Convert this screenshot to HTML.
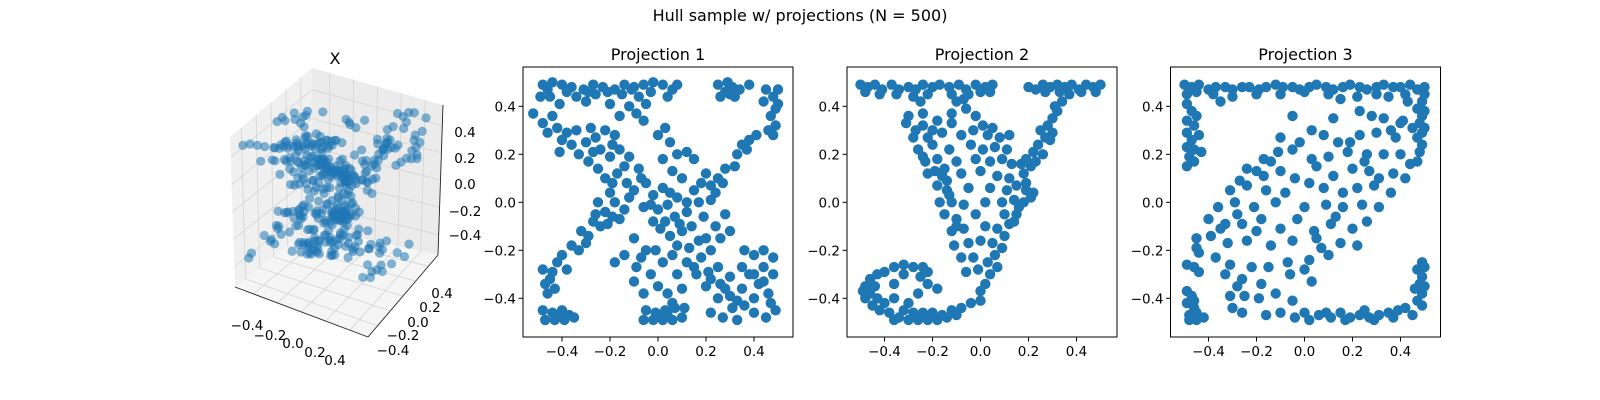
<!DOCTYPE html>
<html><head><meta charset="utf-8"><style>
html,body{margin:0;padding:0;background:#fff;}
svg{display:block;font-family:"DejaVu Sans","Liberation Sans",sans-serif;}
</style></head><body>
<svg id="fig" width="1600" height="400" viewBox="0 0 1600 400" xmlns="http://www.w3.org/2000/svg">
<rect width="1600" height="400" fill="#fff"/>
<text x="800" y="21" font-size="16" text-anchor="middle" fill="#000">Hull sample w/ projections (N = 500)</text>
<g id="g3d"></g>
<g id="p1"></g>
<g id="p2"></g>
<g id="p3"></g>
</svg>
<script>
const tickValues=[-0.4,-0.2,0.0,0.2,0.4];
const tickLabels=["\u22120.4","\u22120.2","0.0","0.2","0.4"];
const panelTitles=["Projection 1","Projection 2","Projection 3"];
const proj1=[[-0.48,0.49],[-0.44,0.5],[-0.40,0.49],[-0.36,0.48],[-0.31,0.47],[-0.27,0.49],[-0.23,0.48],[-0.18,0.47],[-0.14,0.49],[-0.10,0.48],[-0.06,0.49],[-0.02,0.5],[0.02,0.49],[0.06,0.47],[-0.49,0.44],[-0.45,0.44],[-0.34,0.44],[-0.26,0.45],[-0.15,0.45],[-0.08,0.44],[0.04,0.44],[-0.2,0.41],[-0.12,0.4],[-0.05,0.41],
[-0.46,0.47],[-0.38,0.46],[-0.29,0.46],[-0.21,0.46],[-0.11,0.47],[-0.03,0.46],[0.08,0.49],[-0.41,0.41],[-0.30,0.42],[-0.09,0.37],[-0.06,0.34],[-0.16,0.36],
[0.25,0.49],[0.28,0.46],[0.31,0.48],[0.34,0.47],[0.38,0.49],[0.26,0.44],[0.32,0.44],[0.45,0.47],[0.48,0.44],[0.44,0.42],[0.49,0.39],[0.47,0.36],[0.49,0.32],[0.46,0.3],[0.41,0.28],[0.38,0.26],[0.35,0.24],[0.29,0.5],[0.3,0.45],[0.5,0.47],[0.5,0.41],[0.48,0.28],
[-0.52,0.37],[-0.48,0.33],[-0.44,0.36],[-0.42,0.31],[-0.46,0.29],[-0.38,0.29],[-0.36,0.24],[-0.41,0.21],[-0.33,0.20],[-0.30,0.25],[-0.26,0.27],[-0.22,0.30],[-0.18,0.28],[-0.29,0.17],[-0.25,0.14],[-0.20,0.19],[-0.16,0.22],[-0.12,0.19],[-0.22,0.10],[-0.17,0.12],[-0.13,0.08],[-0.08,0.14],[-0.10,0.05],[-0.05,0.08],[-0.02,0.03],[0.02,0.06],[-0.06,-0.02],[0.00,-0.03],[0.04,-0.01],[0.08,0.02],[-0.02,-0.08],[0.03,-0.08],[0.07,-0.06],[0.12,-0.04],[0.05,-0.14],[0.10,-0.12],[0.14,-0.10],[0.08,-0.18],[0.13,-0.19],[0.17,-0.16],[0.12,-0.25],[0.18,-0.23],[0.22,-0.20],[0.16,-0.30],[0.21,-0.29],[0.25,-0.27],[0.20,-0.35],[0.26,-0.34],[0.30,-0.31],[0.25,-0.40],[0.30,-0.39],[0.35,-0.36],[0.31,-0.44],[0.36,-0.43],[0.40,-0.40],[0.42,-0.34],[0.46,-0.38],[0.48,-0.30],[0.44,-0.27],[0.40,-0.22],[0.36,-0.2],
[-0.40,0.26],[-0.34,0.30],[-0.28,0.31],[-0.24,0.22],[-0.19,0.24],[-0.27,0.21],[-0.14,0.15],[-0.19,0.08],[-0.07,0.1],[-0.12,0.02],[-0.03,-0.01],[0.01,-0.11],[0.09,-0.09],[0.06,-0.22],[0.15,-0.27],[0.22,-0.32],[0.28,-0.36],[0.33,-0.41],[0.05,0.04],
[0.00,0.28],[0.03,0.31],[0.05,0.25],[0.08,0.2],[0.12,0.21],[0.15,0.18],[0.02,0.18],[0.06,0.13],[0.10,0.1],
[-0.48,-0.28],[-0.45,-0.32],[-0.42,-0.25],[-0.46,-0.38],[-0.43,-0.36],[-0.40,-0.22],[-0.38,-0.28],[-0.36,-0.18],[-0.33,-0.2],[-0.32,-0.12],[-0.29,-0.14],[-0.27,-0.08],[-0.24,-0.1],[-0.22,-0.04],[-0.19,-0.06],[-0.18,0.0],[-0.14,-0.03],[-0.25,0.0],[-0.2,0.04],[0.18,0.08],[0.22,0.07],[0.2,0.12],[0.25,0.10],[0.28,0.14],[0.33,0.2],[0.37,0.22],[0.32,0.15],
[-0.47,-0.34],[-0.44,-0.29],[-0.30,-0.17],[-0.26,-0.05],[-0.21,-0.09],[-0.16,-0.07],[0.24,0.04],[0.27,0.08],
[0.12,0.0],[0.17,0.0],[0.22,0.01],[0.15,0.05],[0.19,-0.06],[0.24,-0.1],[0.28,-0.05],[0.26,-0.15],[0.2,-0.15],[0.3,-0.12],[-0.05,-0.2],[-0.1,-0.15],[-0.14,-0.22],[-0.18,-0.25],[-0.09,-0.27],[-0.03,-0.3],[0.02,-0.25],[0.0,-0.35],[-0.06,-0.38],[0.04,-0.38],[-0.1,-0.33],[-0.07,-0.23],[-0.01,-0.2],[0.08,-0.3],[0.1,-0.36],[0.06,-0.42],
[-0.48,-0.45],[-0.44,-0.46],[-0.40,-0.45],[-0.37,-0.47],[-0.47,-0.49],[-0.43,-0.49],[-0.39,-0.49],[-0.35,-0.48],[-0.05,-0.45],[-0.01,-0.46],[0.03,-0.45],[0.07,-0.44],[-0.06,-0.49],[-0.02,-0.49],[0.02,-0.49],[0.06,-0.49],[0.10,-0.48],[0.11,-0.44],[0.22,-0.46],[0.27,-0.48],[0.33,-0.49],[0.40,-0.46],[0.45,-0.48],[0.49,-0.45],[0.47,-0.42],[0.4,-0.3],[0.35,-0.27],[0.48,-0.23],[0.44,-0.2],[-0.42,-0.47],[0.0,-0.47],[0.04,-0.47],[0.38,-0.3],[0.44,-0.33]];
const proj2=[[-0.50,0.49],[-0.47,0.48],[-0.44,0.49],[-0.41,0.47],[-0.37,0.49],[-0.34,0.47],[-0.30,0.48],[-0.27,0.47],[-0.24,0.49],[-0.20,0.48],[-0.17,0.49],[-0.13,0.48],[-0.09,0.49],[-0.06,0.47],[-0.02,0.49],[0.02,0.48],[0.05,0.49],[-0.48,0.46],[-0.42,0.45],[-0.35,0.45],[-0.28,0.44],[-0.22,0.45],[-0.12,0.45],[-0.05,0.45],[0.0,0.46],[0.04,0.46],[-0.25,0.42],[-0.1,0.42],[-0.07,0.43],
[0.20,0.48],[0.23,0.47],[0.26,0.49],[0.29,0.48],[0.32,0.49],[0.35,0.48],[0.38,0.49],[0.41,0.47],[0.44,0.49],[0.47,0.48],[0.50,0.49],[0.27,0.46],[0.33,0.46],[0.42,0.46],[0.48,0.46],[0.37,0.45],
[0.34,0.42],[0.32,0.38],[0.30,0.35],[0.28,0.32],[0.25,0.3],[0.27,0.27],[0.24,0.24],[0.22,0.21],[0.19,0.18],[0.17,0.16],[0.21,0.15],[0.18,0.12],[0.30,0.29],[0.26,0.2],[0.31,0.4],[0.29,0.26],[0.23,0.17],
[-0.30,0.36],[-0.24,0.37],[-0.12,0.37],[-0.06,0.39],[-0.02,0.36],[-0.31,0.33],[-0.24,0.32],[-0.18,0.34],[-0.12,0.33],[-0.03,0.30],[0.01,0.32],[-0.28,0.27],[-0.22,0.27],[-0.16,0.29],[-0.08,0.28],[0.03,0.28],[0.08,0.27],[0.12,0.28],[-0.26,0.22],[-0.20,0.24],[-0.13,0.22],[-0.04,0.24],[0.01,0.22],[0.06,0.23],[0.11,0.22],[-0.23,0.17],[-0.18,0.18],[-0.10,0.17],[-0.02,0.18],[0.04,0.17],[0.09,0.18],[0.13,0.16],[-0.22,0.12],[-0.16,0.11],[-0.08,0.12],[0.00,0.13],[0.07,0.11],[0.12,0.1],[-0.18,0.07],[-0.14,0.05],[-0.05,0.06],[0.04,0.06],[0.11,0.05],[0.15,0.07],[0.19,0.05],[0.22,0.04],[-0.17,0.0],[-0.12,0.0],[-0.07,-0.01],[0.02,0.0],[0.09,0.0],[0.14,0.01],[0.18,0.0],[0.21,0.02],[-0.15,-0.05],[-0.10,-0.07],[-0.02,-0.05],[0.10,-0.05],[0.15,-0.05],[-0.12,-0.12],[-0.07,-0.11],[0.02,-0.1],[0.07,-0.11],[0.12,-0.09],[-0.11,-0.18],[-0.05,-0.17],[0.00,-0.16],[0.05,-0.17],[0.09,-0.19],[-0.08,-0.23],[-0.03,-0.23],[0.03,-0.25],[0.06,-0.22],[-0.06,-0.29],[-0.01,-0.28],[0.04,-0.3],[0.02,-0.34],[0.0,-0.37],[0.0,-0.41],[-0.04,-0.42],[-0.08,-0.44],[-0.12,-0.45],[-0.16,-0.47],
[-0.27,0.3],[-0.2,0.3],[-0.24,0.19],[-0.19,0.13],[-0.15,0.14],[-0.13,0.03],[0.16,-0.02],[0.19,0.08],[0.14,-0.08],[0.1,-0.14],[0.07,-0.27],[-0.1,-0.1],[-0.14,0.09],[0.05,0.31],
[-0.14,-0.48],[-0.18,-0.49],[-0.22,-0.49],[-0.26,-0.49],[-0.30,-0.49],[-0.34,-0.48],[-0.38,-0.46],[-0.24,-0.46],[-0.20,-0.46],[-0.28,-0.46],[-0.32,-0.45],[-0.36,-0.49],[-0.1,-0.47],
[-0.42,-0.45],[-0.45,-0.43],[-0.48,-0.4],[-0.49,-0.37],[-0.46,-0.38],[-0.44,-0.35],[-0.46,-0.32],[-0.43,-0.30],[-0.40,-0.29],[-0.40,-0.42],[-0.36,-0.4],[-0.43,-0.4],[-0.48,-0.35],
[-0.36,-0.27],[-0.32,-0.26],[-0.28,-0.27],[-0.24,-0.27],[-0.22,-0.29],[-0.25,-0.31],[-0.32,-0.3],[-0.22,-0.34],[-0.18,-0.36],[-0.26,-0.38],[-0.36,-0.34],[-0.30,-0.42]];
const proj3=[[-0.50,0.49],[-0.47,0.48],[-0.44,0.49],[-0.40,0.47],[-0.37,0.48],[-0.33,0.48],[-0.30,0.47],[-0.26,0.48],[-0.23,0.48],[-0.19,0.47],[-0.16,0.48],[-0.12,0.49],[-0.09,0.48],[-0.05,0.48],[-0.02,0.47],[0.02,0.48],[0.05,0.49],[0.09,0.48],[0.12,0.47],[0.16,0.48],[0.19,0.49],[0.23,0.48],[0.26,0.47],[0.30,0.48],[0.33,0.49],[0.37,0.48],[0.40,0.48],[0.44,0.49],[0.47,0.47],[-0.49,0.45],[-0.45,0.46],[-0.38,0.45],[-0.30,0.44],[-0.20,0.45],[-0.10,0.45],[0.0,0.46],[0.10,0.45],[0.22,0.44],[0.30,0.45],[0.35,0.44],[0.42,0.45],[-0.48,0.47],[0.5,0.48],[-0.35,0.42],[0.15,0.43],
[-0.49,0.41],[-0.47,0.38],[-0.49,0.34],[-0.46,0.32],[-0.49,0.29],[-0.47,0.26],[-0.49,0.23],[-0.46,0.22],[-0.48,0.19],[-0.46,0.17],[-0.49,0.15],[-0.43,0.21],[-0.44,0.28],[-0.45,0.36],
[0.49,0.42],[0.47,0.39],[0.49,0.36],[0.48,0.33],[0.49,0.29],[0.47,0.27],[0.49,0.24],[0.48,0.21],[0.47,0.17],[0.43,0.42],[0.45,0.31],[0.41,0.34],[0.5,0.45],[0.5,0.38],[0.5,0.31],
[0.23,0.38],[0.28,0.36],[0.33,0.35],[0.40,0.33],[0.36,0.30],[-0.05,0.36],[0.03,0.3],[-0.10,0.27],[-0.02,0.25],[0.08,0.28],[0.14,0.25],[0.23,0.28],[0.30,0.29],[0.38,0.27],[-0.17,0.18],[-0.11,0.21],[-0.05,0.22],[0.03,0.18],[0.1,0.19],[0.18,0.21],[0.26,0.20],[0.33,0.20],[0.40,0.2],[0.44,0.16],[-0.24,0.14],[-0.17,0.11],[-0.10,0.13],[0.05,0.15],[0.12,0.11],[0.20,0.14],[0.27,0.13],[0.37,0.12],[0.42,0.1],[-0.31,0.05],[-0.24,0.07],[-0.16,0.05],[-0.08,0.04],[0.02,0.08],[0.08,0.06],[0.16,0.04],[0.22,0.06],[0.29,0.07],[0.36,0.04],[-0.36,-0.02],[-0.29,0.0],[-0.21,-0.02],[-0.12,0.0],[0.0,-0.02],[0.09,-0.01],[0.16,-0.02],[0.24,-0.01],[0.31,-0.02],[-0.40,-0.07],[-0.33,-0.09],[-0.26,-0.09],[-0.18,-0.07],[-0.10,-0.11],[0.04,-0.12],[0.11,-0.09],[0.20,-0.11],[0.26,-0.08],[-0.45,-0.15],[-0.39,-0.14],[-0.32,-0.17],[-0.24,-0.16],[-0.14,-0.18],[-0.05,-0.16],[0.05,-0.15],[0.15,-0.17],[0.22,-0.18],[-0.44,-0.21],[-0.37,-0.23],[-0.31,-0.26],[-0.22,-0.27],[-0.15,-0.27],[-0.07,-0.25],[0.02,-0.24],[0.10,-0.22],[-0.45,-0.19],[-0.33,-0.30],[-0.26,-0.32],[-0.18,-0.34],[-0.06,-0.3],[0.0,-0.28],[0.03,-0.33],[-0.31,-0.39],[-0.25,-0.39],[-0.19,-0.4],[-0.12,-0.38],[-0.05,-0.41],[-0.28,-0.35],
[-0.14,0.17],[-0.2,0.13],[-0.27,0.09],[-0.04,0.1],[0.19,0.25],[0.25,0.17],[-0.03,-0.07],[0.13,-0.06],[-0.2,-0.12],[-0.28,-0.05],[0.07,-0.19],[-0.35,-0.11],[0.12,0.35],[0.31,0.1],
[-0.49,-0.26],[-0.46,-0.27],[-0.44,-0.29],[-0.49,-0.37],[-0.47,-0.39],[-0.49,-0.42],[-0.46,-0.44],[-0.48,-0.47],[-0.45,-0.49],[-0.42,-0.48],[-0.48,-0.49],[-0.46,-0.41],[-0.45,-0.46],
[-0.30,-0.44],[-0.26,-0.46],[-0.16,-0.47],[-0.10,-0.46],[-0.04,-0.48],[0.02,-0.49],[0.06,-0.47],[0.11,-0.48],[0.15,-0.46],[0.19,-0.48],[0.23,-0.47],[0.27,-0.48],[0.31,-0.47],[0.35,-0.46],[0.39,-0.45],[0.42,-0.44],[0.45,-0.47],[0.0,-0.46],[0.17,-0.49],[0.29,-0.49],[0.09,-0.46],[0.25,-0.45],[0.37,-0.48],
[0.49,-0.25],[0.47,-0.28],[0.49,-0.31],[0.48,-0.34],[0.46,-0.36],[0.49,-0.38],[0.47,-0.41],[0.49,-0.43],[0.5,-0.35],[0.5,-0.27]];

const NS="http://www.w3.org/2000/svg";
const BLUE="#1f77b4";
function mk(parent,tag,attrs){const e=document.createElementNS(NS,tag);for(const k in attrs)e.setAttribute(k,attrs[k]);parent.appendChild(e);return e;}

const panels=[{id:"p1",left:523,data:proj1,zero:658},{id:"p2",left:847,data:proj2,zero:980.5},{id:"p3",left:1170.5,data:proj3,zero:1304.5}];
const TOP=67,SIZE=270,SCALE=240,YZERO=202.3;
panels.forEach((p,pi)=>{
  const g=document.getElementById(p.id);
  const xs=v=>p.zero+v*SCALE, ys=v=>YZERO-v*SCALE;
  const clip=mk(g,"clipPath",{id:"clip"+pi});
  mk(clip,"rect",{x:p.left,y:TOP,width:SIZE,height:SIZE});
  const pts=mk(g,"g",{"clip-path":"url(#clip"+pi+")"});
  
  
  p.data.forEach(d=>{
    const c=mk(pts,"circle",{cx:xs(d[0]),cy:ys(d[1]),r:5.2,fill:BLUE});
    
    
  });
  const frame=mk(g,"rect",{x:p.left,y:TOP,width:SIZE,height:SIZE,fill:"none",stroke:"#000","stroke-width":1});
  
  
  tickValues.forEach((v,i)=>{
    mk(g,"line",{x1:xs(v),x2:xs(v),y1:TOP+SIZE,y2:TOP+SIZE+4.5,stroke:"#000"});
    const tx=mk(g,"text",{x:xs(v),y:TOP+SIZE+19,"font-size":13.5,"text-anchor":"middle"});
    tx.textContent=tickLabels[i];
    
    
    mk(g,"line",{x1:p.left-4.5,x2:p.left,y1:ys(v),y2:ys(v),stroke:"#000"});
    const ty=mk(g,"text",{x:p.left-7,y:ys(v)+5,"font-size":13.5,"text-anchor":"end"});
    ty.textContent=tickLabels[i];
    
    
  });
  const t=mk(g,"text",{x:p.left+SIZE/2,y:TOP-7,"font-size":16,"text-anchor":"middle"});
  t.textContent=panelTitles[pi];
  
  
});

const g3=document.getElementById("g3d");
const C={
 "---":[235,287],"+--":[368,337],"++-":[438,255],"-+-":[312,227],
 "--+":[230,137],"+-+":[370,190],"+++":[443,105],"-++":[312,68]};
function P(x,y,z){
  const u=(x+0.55)/1.1,v=(y+0.55)/1.1,w=(z+0.55)/1.1;
  let X=0,Y=0;
  for(const a of[0,1])for(const b of[0,1])for(const c of[0,1]){
    const k=(a?"+":"-")+(b?"+":"-")+(c?"+":"-");
    const wt=(a?u:1-u)*(b?v:1-v)*(c?w:1-w);
    X+=wt*C[k][0];Y+=wt*C[k][1];
  }
  return[X,Y];
}
function poly(pts,fill,name){const e=mk(g3,"polygon",{points:pts.map(p=>p.join(",")).join(" "),fill:fill,stroke:"none"});}
const E=0.55;
poly([P(-E,-E,-E),P(-E,E,-E),P(-E,E,E),P(-E,-E,E)],"#f0f0f0","pane-left");
poly([P(-E,E,-E),P(E,E,-E),P(E,E,E),P(-E,E,E)],"#ebebeb","pane-right");
poly([P(-E,-E,-E),P(E,-E,-E),P(E,E,-E),P(-E,E,-E)],"#f5f5f5","pane-floor");
function ln(a,b,col,w){mk(g3,"line",{x1:a[0],y1:a[1],x2:b[0],y2:b[1],stroke:col,"stroke-width":w});}
const GC="#d4d4d4";
tickValues.forEach(v=>{
  ln(P(v,-E,-E),P(v,E,-E),GC,0.8); ln(P(v,E,-E),P(v,E,E),GC,0.8);
  ln(P(-E,v,-E),P(E,v,-E),GC,0.8); ln(P(-E,v,-E),P(-E,v,E),GC,0.8);
  ln(P(-E,-E,v),P(-E,E,v),GC,0.8); ln(P(-E,E,v),P(E,E,v),GC,0.8);
});
ln(P(-E,-E,-E),P(E,-E,-E),"#222",0.9);
ln(P(E,-E,-E),P(E,E,-E),"#222",0.9);
ln(P(E,E,-E),P(E,E,E),"#222",0.9);
const pts3=mk(g3,"g",{});


function plot3(a,b,c){
  const q=P(a,b,c);
  const e=mk(pts3,"circle",{cx:q[0],cy:q[1],r:4.6,fill:BLUE,"fill-opacity":0.55});
  
  
}
const n12=Math.min(proj1.length,proj2.length);
for(let i=0;i<n12;i++) plot3(proj1[i][0],proj2[i][0],proj1[i][1]);
const n3=Math.min(proj3.length,proj2.length,proj1.length);
for(let i=0;i<n3;i++) plot3(proj2[i][0]*0.7,proj1[i][0]*0.6,proj3[i][1]*0.85);
const xl=[[247,330],[270,340],[293,348],[315,357],[335,365]];
const yl=[[393,355],[403,340],[418,327],[430,312],[442,298]];
const zl=[[465,137],[465,163],[465,189],[465,216],[465,240]];
tickValues.forEach((v,i)=>{
  const a=mk(g3,"text",{x:xl[i][0],y:xl[i][1],"font-size":13.5,"text-anchor":"middle"});a.textContent=tickLabels[i];
  
  const b=mk(g3,"text",{x:yl[i][0],y:yl[i][1],"font-size":13.5,"text-anchor":"middle"});b.textContent=tickLabels[i];
  
  const c=mk(g3,"text",{x:zl[4-i][0],y:zl[4-i][1],"font-size":13.5,"text-anchor":"middle"});c.textContent=tickLabels[i];
  
});
const t3=mk(g3,"text",{x:335,y:64,"font-size":16,"text-anchor":"middle"});t3.textContent="X";

</script>
</body></html>
